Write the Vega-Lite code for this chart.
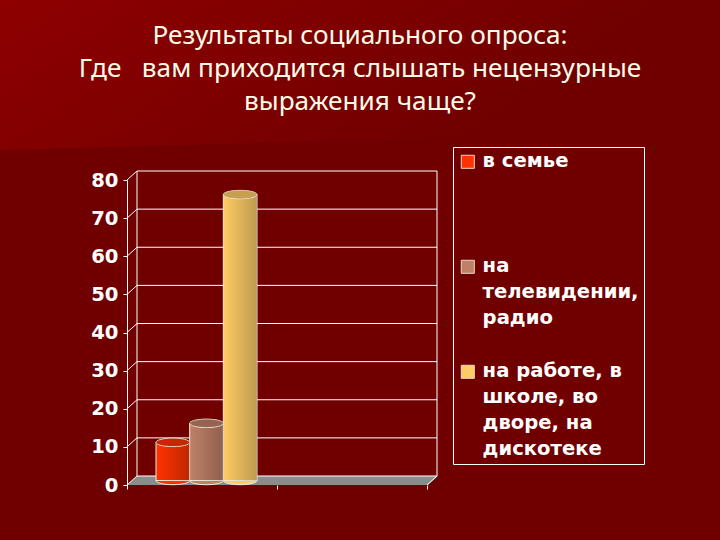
{
  "$schema": "https://vega.github.io/schema/vega-lite/v6.json",
  "autosize": "none",
  "background": "#700000",
  "padding": {"left": 127, "top": 180, "right": 293, "bottom": 55},
  "width": 300,
  "height": 305,
  "view": {"stroke": null},
  "title": {
    "text": ["Результаты социального опроса:", "Где\u00a0\u00a0\u00a0вам приходится слышать нецензурные", "выражения чаще?"],
    "font": "Noto Sans",
    "fontSize": 26.2,
    "fontWeight": "normal",
    "color": "#fffbe8",
    "lineHeight": 33,
    "anchor": "middle",
    "frame": "group",
    "dx": 83,
    "offset": -115
  },
  "datasets": {
    "answers": [
      {"answer": "в семье", "percent": 10},
      {"answer": "на телевидении, радио", "percent": 15},
      {"answer": "на работе, в школе, во дворе, на дискотеке", "percent": 75}
    ],
    "ticks": [
      {"tick": 0}, {"tick": 10}, {"tick": 20}, {"tick": 30}, {"tick": 40},
      {"tick": 50}, {"tick": 60}, {"tick": 70}, {"tick": 80}
    ]
  },
  "data": {"name": "answers"},
  "resolve": {"scale": {"x": "independent"}, "axis": {"x": "independent", "y": "independent"}},
  "layer": [
    {
      "mark": {
        "type": "point",
        "filled": true,
        "opacity": 1,
        "size": 4,
        "shape": "M-277,-485L443,-485L443,-355L-277,-335Z",
        "color": {
          "gradient": "linear",
          "x1": 0, "x2": 1, "y1": 0, "y2": 0.3,
          "stops": [{"offset": 0, "color": "#8e0000"}, {"offset": 0.85, "color": "#700000"}, {"offset": 1, "color": "#700000"}]
        }
      },
      "data": {"values": [{"a": 1}]},
      "encoding": {
        "x": {"datum": 1, "type": "quantitative", "scale": {"domain": [0, 2]}, "axis": null},
        "y": {"datum": 0, "type": "quantitative", "scale": {"domain": [0, 80]}, "axis": null}
      }
    },
    {
      "data": {"name": "ticks"},
      "encoding": {
        "x": {"datum": 0, "type": "quantitative", "scale": {"domain": [0, 2]}, "axis": {"title": null, "values": [0, 1, 2], "labels": false, "grid": false, "domain": false, "domainColor": "#ffffff", "tickColor": "#ffffff", "tickSize": 4}},
        "y": {
          "field": "tick",
          "type": "quantitative",
          "scale": {"domain": [0, 80]},
          "axis": {
            "title": null,
            "values": [0, 10, 20, 30, 40, 50, 60, 70, 80],
            "grid": false,
            "domainColor": "#ffffff",
            "tickColor": "#ffffff",
            "tickSize": 4,
            "labelColor": "#ffffff",
            "labelFont": "DejaVu Sans",
            "labelFontWeight": "bold",
            "labelFontSize": 19.6,
            "labelPadding": 5,
            "labelOverlap": false
          }
        }
      },
      "layer": [
        {
          "mark": {
            "type": "point",
            "filled": true,
            "opacity": 1,
            "color": "#8c8c8c",
            "size": 4,
            "shape": "M-150,4.5L-140,-4.5L161,-4.5L151,4.5Z"
          },
          "transform": [{"filter": "datum.tick == 0"}],
          "encoding": {
            "x": {"datum": 1, "type": "quantitative"},
            "yOffset": {"value": -4.5}
          }
        },
        {
          "mark": {"type": "rule", "color": "#ffffff", "strokeWidth": 1, "xOffset": 10, "x2Offset": 10, "yOffset": -9},
          "encoding": {"x2": {"datum": 2}}
        },
        {
          "mark": {"type": "rule", "color": "#ffffff", "strokeWidth": 1, "x2Offset": 10, "y2Offset": -9},
          "encoding": {"x2": {"datum": 0}, "y2": {"field": "tick"}}
        },
        {
          "mark": {"type": "rule", "color": "#ffffff", "strokeWidth": 1, "xOffset": 10, "yOffset": -9, "y2Offset": -9},
          "transform": [{"filter": "datum.tick == 0"}],
          "encoding": {"y2": {"datum": 80}}
        },
        {
          "mark": {"type": "rule", "color": "#ffffff", "strokeWidth": 1, "xOffset": 10, "yOffset": -9, "y2Offset": -9},
          "transform": [{"filter": "datum.tick == 0"}],
          "encoding": {"x": {"datum": 2, "type": "quantitative"}, "y2": {"datum": 80}}
        },
        {
          "mark": {"type": "rule", "color": "#ffffff", "strokeWidth": 1, "x2Offset": 10, "y2Offset": -9},
          "transform": [{"filter": "datum.tick == 0"}],
          "encoding": {"x": {"datum": 2, "type": "quantitative"}, "x2": {"datum": 2}, "y2": {"datum": 0}}
        }
      ]
    },
    {
      "encoding": {
        "x": {
          "field": "answer",
          "type": "nominal",
          "sort": null,
          "axis": null,
          "scale": {"range": [29, 130], "paddingInner": 0, "paddingOuter": 0}
        },
        "y": {"field": "percent", "type": "quantitative", "scale": {"domain": [0, 80]}, "axis": null},
        "color": {
          "field": "answer",
          "type": "nominal",
          "sort": null,
          "scale": {"range": ["#ff3300", "#bf8068", "#ffcc66"]},
          "legend": {
            "title": null,
            "orient": "none",
            "legendX": 326,
            "legendY": -33,
            "gridAlign": "all",
            "rowPadding": 6,
            "symbolType": "square",
            "symbolSize": 170,
            "symbolOpacity": 1,
            "symbolStrokeColor": "#e8d8c8",
            "symbolStrokeWidth": 1,
            "strokeColor": "#ffffff",
            "padding": 5,
            "labelColor": "#ffffff",
            "labelFont": "DejaVu Sans",
            "labelFontWeight": "bold",
            "labelFontSize": 19.6,
            "labelLimit": 200,
            "labelBaseline": "top",
            "labelOffset": 5,
            "labelExpr": "datum.label == 'в семье' ? 'в семье' : datum.label == 'на телевидении, радио' ? ['на', 'телевидении,', 'радио'] : ['на работе, в', 'школе, во', 'дворе, на', 'дискотеке']",
            "encoding": {"labels": {"lineHeight": {"value": 26}, "dy": {"value": -10}}}
          }
        }
      },
      "layer": [
        {
          "mark": {"type": "point", "filled": true, "opacity": 1, "size": 1130, "shape": "M-1,0A1,0.25 0 1 1 1,0A1,0.25 0 1 1 -1,0Z", "stroke": "#f5ead8", "strokeWidth": 1},
          "encoding": {"y": {"datum": 0, "type": "quantitative", "axis": null}, "yOffset": {"value": -4.5}}
        },
        {
          "mark": {"type": "bar", "yOffset": -4.5, "y2Offset": -4.5, "stroke": "#f5ead8", "strokeWidth": 1, "width": {"band": 1}},
          "encoding": {"y2": {"datum": 0}}
        },
        {
          "mark": {
            "type": "bar",
            "yOffset": -4.5,
            "y2Offset": -4.5,
            "width": {"band": 1},
            "color": {
              "gradient": "linear",
              "x1": 0, "x2": 1, "y1": 0, "y2": 0,
              "stops": [{"offset": 0, "color": "rgba(0,0,0,0)"}, {"offset": 1, "color": "rgba(0,0,0,0.25)"}]
            }
          },
          "encoding": {"y2": {"datum": 0}, "color": null}
        },
        {
          "mark": {"type": "point", "filled": true, "opacity": 1, "size": 1130, "shape": "M-1,0A1,0.25 0 1 1 1,0A1,0.25 0 1 1 -1,0Z", "stroke": "#f5ead8", "strokeWidth": 1},
          "encoding": {"yOffset": {"value": -4.5}}
        },
        {
          "mark": {"type": "point", "filled": true, "opacity": 1, "size": 1130, "color": "#000000", "fillOpacity": 0.22, "shape": "M-1,0A1,0.25 0 1 1 1,0A1,0.25 0 1 1 -1,0Z"},
          "encoding": {"yOffset": {"value": -4.5}, "color": {"value": "#000000"}}
        }
      ]
    }
  ]
}
